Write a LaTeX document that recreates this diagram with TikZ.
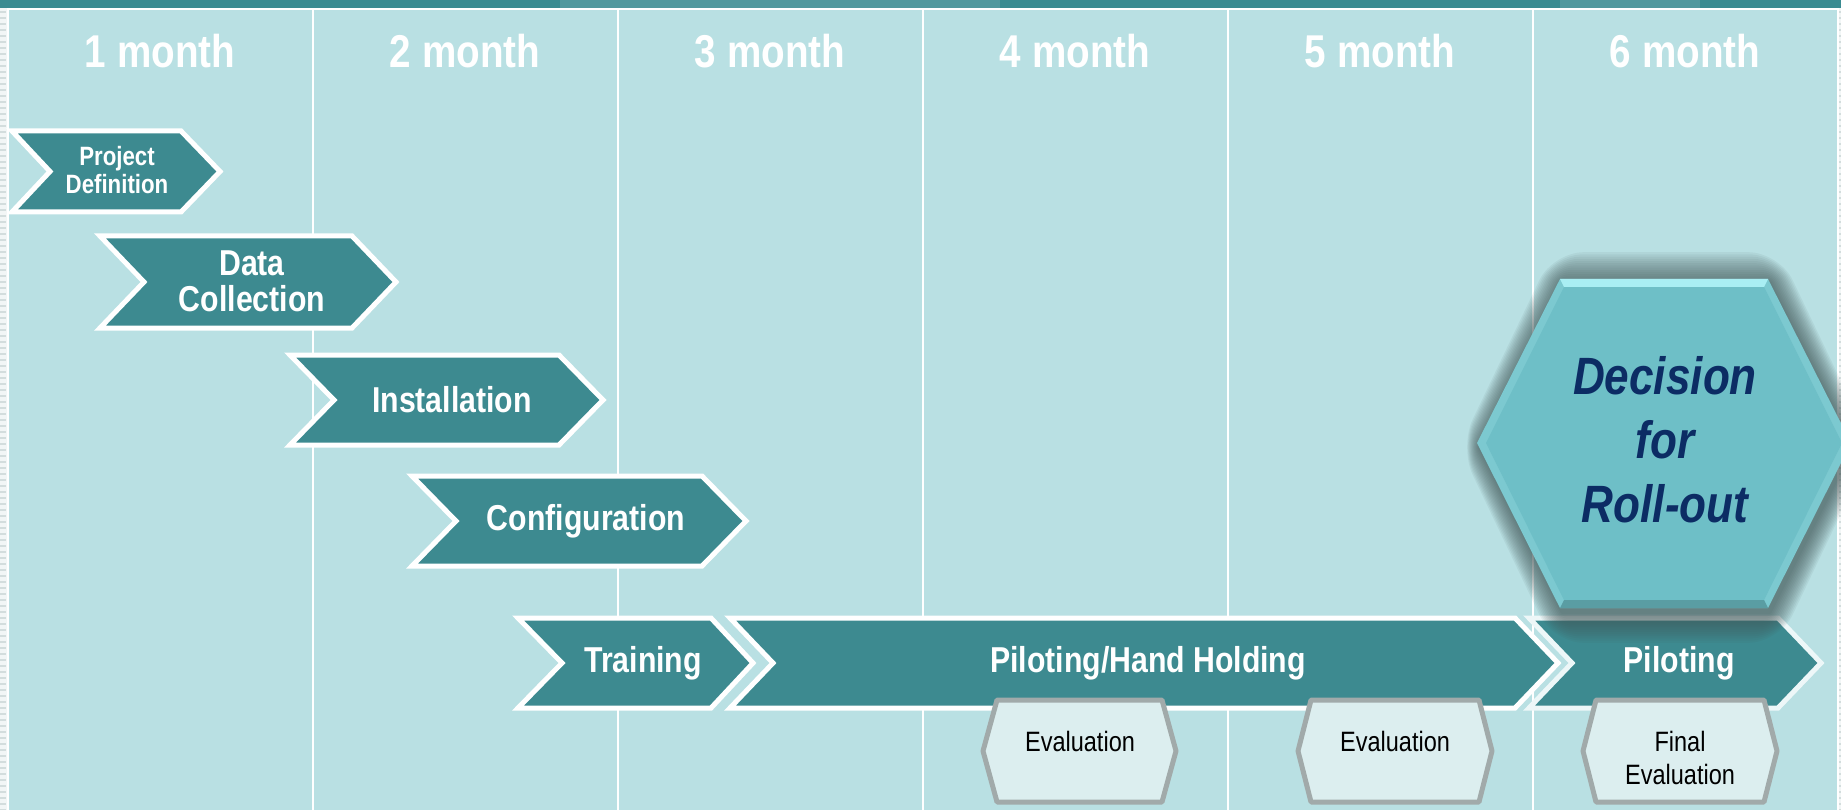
\documentclass[tikz,border=0pt]{standalone}
\usepackage{fontspec}
\setmainfont{Liberation Sans}
\newfontfamily\nf[FakeStretch=0.84]{Liberation Sans}
\definecolor{bgc}{HTML}{B9E0E3}
\definecolor{tealc}{HTML}{3D8A90}
\definecolor{bandc}{HTML}{3A8B91}
\definecolor{evfill}{HTML}{DCEEEF}
\definecolor{evline}{HTML}{A1AAAA}
\definecolor{navy}{HTML}{0C2C64}
\definecolor{hexfill}{HTML}{6EBFC7}
\definecolor{hexlight}{HTML}{7CC9D0}
\definecolor{hextop}{HTML}{A9EEF3}
\definecolor{shadowc}{HTML}{3E5253}
\definecolor{stripc}{HTML}{F2F6F6}
\definecolor{stripd}{HTML}{D3DDDD}
\tikzset{
  chev/.style={fill=tealc, draw=white, line width=5pt, line join=miter},
  evhex/.style={fill=evfill, draw=evline, line width=5pt, line join=round},
  month/.style={font=\nf\bfseries\fontsize{46}{50}\selectfont, text=white, inner sep=0pt},
  chevtext/.style={font=\nf\bfseries\fontsize{36}{36}\selectfont, text=white, inner sep=0pt, align=center},
  smalltext/.style={font=\nf\bfseries\fontsize{26.5}{28}\selectfont, text=white, inner sep=0pt, align=center},
  evtext/.style={font=\nf\fontsize{28}{33}\selectfont, text=black, inner sep=0pt, align=center},
  dectext/.style={font=\nf\bfseries\itshape\fontsize{52.5}{64}\selectfont, text=navy, inner sep=0pt, align=center},
  divider/.style={draw=white, line width=2pt}
}
\begin{document}
\begin{tikzpicture}[x=1pt,y=-1pt]
\clip (0,0) rectangle (1841,810);
% background
\fill[bgc] (0,0) rectangle (1841,810);
% top band
\fill[bandc] (0,0) rectangle (1841,8);
\fill[white!25!bandc, opacity=0.5] (560,0) rectangle (1000,8);
\fill[white!25!bandc, opacity=0.5] (1560,0) rectangle (1700,8);
% side strips
\fill[stripc] (0,8) rectangle (7,810);
\fill[stripc] (1838,8) rectangle (1841,810);
\foreach \yy in {12,18,...,810} {
  \draw[stripd, line width=1.5pt] (0,\yy) -- (6,\yy);
  \draw[stripd, line width=1.5pt] (1839,\yy) -- (1841,\yy);
}
% frame of the light area
\draw[white, line width=2pt] (8,810) -- (8,9.5) -- (1838,9.5) -- (1838,810);
% dividers
\foreach \xx in {313,618,923,1228,1533} {
  \draw[divider] (\xx,10) -- (\xx,810);
}
% month labels
\foreach \i/\xx in {1/160,2/465,3/770,4/1075,5/1380,6/1685} {
  \node[month] (m\i) at (\xx,51) {\i\ month};
}
% chevrons
\draw[chev] (12,131) -- (181,131) -- (220,171.5) -- (181,212) -- (12,212) -- (50,171.5) -- cycle;
\node[smalltext] (pd) at (117,170) {Project\\Definition};

\draw[chev] (100,236) -- (352,236) -- (396,282) -- (352,328) -- (100,328) -- (144,282) -- cycle;
\node[chevtext] (dc) at (252,281) {Data\\Collection};

\draw[chev] (290,355) -- (559,355) -- (603,400) -- (559,445) -- (290,445) -- (334,400) -- cycle;
\node[chevtext] (inst) at (452,400) {Installation};

\draw[chev] (412,476) -- (702,476) -- (746,521) -- (702,566) -- (412,566) -- (456,521) -- cycle;
\node[chevtext] (conf) at (586,521) {Configuration};

\draw[chev] (518,618) -- (711,618) -- (753,663) -- (711,708) -- (518,708) -- (562,663) -- cycle;
\node[chevtext] (train) at (643,663) {Training};

\draw[chev] (730,618) -- (1515,618) -- (1558,663) -- (1515,708) -- (730,708) -- (773,663) -- cycle;
\node[chevtext] (phh) at (1148,663) {Piloting/Hand Holding};

\draw[chev, draw=white!75!bgc] (1529,618) -- (1778,618) -- (1821,663) -- (1778,708) -- (1529,708) -- (1572,663) -- cycle;

% decision hexagon shadow (soft glow)
\foreach \k in {1,...,14} {
  \pgfmathsetmacro{\m}{2.2*\k}
  \pgfmathsetmacro{\p}{1.4*\k}
  \fill[shadowc, opacity=0.07, shift={(2,4)}, rounded corners=\m pt]
    ({1477-\p},443) -- ({1560-0.3*\m},{279-\m}) -- ({1768+0.3*\m},{279-\m}) --
    ({1851+\p},443) -- ({1768+0.3*\m},{608+\m}) -- ({1560-0.3*\m},{608+\m}) -- cycle;
}
\node[chevtext] (pil) at (1679,663) {Piloting};
% decision hexagon
\fill[hexlight] (1477,443) -- (1560,279) -- (1768,279) -- (1851,443) -- (1768,608) -- (1560,608) -- cycle;
\fill[hextop] (1560,279) -- (1768,279) -- (1764,287) -- (1564,287) -- cycle;
\fill[hexfill] (1486,443) -- (1564,287) -- (1764,287) -- (1842,443) -- (1764,600) -- (1564,600) -- cycle;
\fill[black!18!hexfill] (1564,600) -- (1764,600) -- (1768,608) -- (1560,608) -- cycle;
\node[dectext] (dec) at (1665,440) {Decision\\for\\Roll-out};

% evaluation hexagons
\draw[evhex] (997,700) -- (1162,700) -- (1176,751) -- (1162,802) -- (997,802) -- (983,751) -- cycle;
\node[evtext] (ev1) at (1080,741) {Evaluation};

\draw[evhex] (1311,700) -- (1479,700) -- (1492,751) -- (1479,802) -- (1311,802) -- (1298,751) -- cycle;
\node[evtext] (ev2) at (1395,741) {Evaluation};

\draw[evhex] (1596,700) -- (1764,700) -- (1777,751) -- (1764,802) -- (1596,802) -- (1583,751) -- cycle;
\node[evtext] (ev3) at (1680,758) {Final\\Evaluation};
\end{tikzpicture}
\end{document}
